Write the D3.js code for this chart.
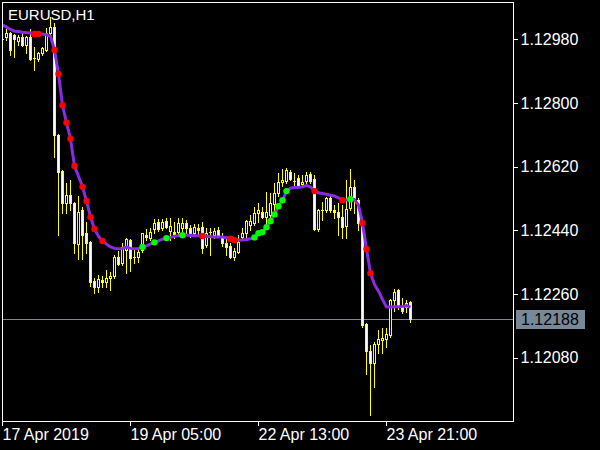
<!DOCTYPE html>
<html><head><meta charset="utf-8">
<script src="https://cdn.jsdelivr.net/npm/d3@7"></script>
<style>html,body{margin:0;padding:0;background:#000;} svg{display:block}</style>
</head><body>
<svg id="c" width="600" height="450"></svg>
<script>
const symbolTitle = "EURUSD,H1";
const open = [1.12978,1.12986,1.12998,1.12992,1.12975,1.12986,1.12964,1.12986,1.12927,1.12924,
1.12941,1.12950,1.12998,1.13015,1.12709,1.12607,1.12517,1.12539,1.12517,1.12401,
1.12497,1.12432,1.12406,1.12296,1.12279,1.12299,1.12293,1.12304,1.12310,1.12364,
1.12347,1.12384,1.12412,1.12361,1.12364,1.12384,1.12426,1.12418,1.12443,1.12463,
1.12446,1.12466,1.12437,1.12434,1.12434,1.12446,1.12460,1.12446,1.12432,1.12446,
1.12449,1.12398,1.12434,1.12426,1.12440,1.12420,1.12403,1.12395,1.12364,1.12378,
1.12420,1.12432,1.12454,1.12460,1.12488,1.12491,1.12477,1.12483,1.12514,1.12545,
1.12576,1.12579,1.12604,1.12579,1.12587,1.12570,1.12579,1.12599,1.12584,1.12443,
1.12497,1.12497,1.12531,1.12497,1.12491,1.12477,1.12451,1.12502,1.12562,1.12525,
1.12454,1.12174,1.12098,1.12064,1.12118,1.12129,1.12132,1.12143,1.12242,1.12270,
1.12222,1.12222,1.12236];
const high = [1.12986,1.13009,1.13000,1.12995,1.12992,1.12998,1.12989,1.13009,1.12958,1.12944,
1.12958,1.13012,1.13043,1.13026,1.12712,1.12610,1.12573,1.12582,1.12519,1.12536,
1.12505,1.12463,1.12409,1.12304,1.12313,1.12310,1.12327,1.12321,1.12369,1.12381,
1.12403,1.12418,1.12415,1.12384,1.12389,1.12432,1.12443,1.12446,1.12471,1.12471,
1.12471,1.12474,1.12474,1.12463,1.12474,1.12474,1.12468,1.12454,1.12457,1.12457,
1.12463,1.12446,1.12446,1.12446,1.12449,1.12432,1.12418,1.12403,1.12389,1.12426,
1.12446,1.12468,1.12483,1.12505,1.12517,1.12505,1.12548,1.12545,1.12573,1.12601,
1.12613,1.12616,1.12610,1.12601,1.12596,1.12596,1.12604,1.12604,1.12596,1.12500,
1.12519,1.12534,1.12536,1.12511,1.12517,1.12511,1.12582,1.12613,1.12582,1.12531,
1.12460,1.12177,1.12115,1.12123,1.12157,1.12163,1.12163,1.12245,1.12273,1.12273,
1.12248,1.12242,1.12239];
const low = [1.12969,1.12978,1.12935,1.12930,1.12964,1.12961,1.12941,1.12921,1.12893,1.12918,
1.12935,1.12947,1.12992,1.12647,1.12426,1.12488,1.12488,1.12497,1.12375,1.12358,
1.12358,1.12375,1.12284,1.12262,1.12265,1.12279,1.12279,1.12270,1.12304,1.12341,
1.12341,1.12318,1.12324,1.12347,1.12350,1.12378,1.12412,1.12412,1.12432,1.12437,
1.12440,1.12446,1.12412,1.12418,1.12426,1.12434,1.12426,1.12420,1.12423,1.12426,
1.12375,1.12392,1.12369,1.12418,1.12420,1.12395,1.12369,1.12361,1.12355,1.12375,
1.12412,1.12412,1.12440,1.12454,1.12463,1.12474,1.12460,1.12477,1.12497,1.12536,
1.12565,1.12573,1.12582,1.12567,1.12559,1.12562,1.12573,1.12573,1.12440,1.12437,
1.12468,1.12491,1.12491,1.12474,1.12426,1.12418,1.12418,1.12497,1.12488,1.12440,
1.12166,1.12035,1.11917,1.11996,1.12092,1.12092,1.12109,1.12137,1.12211,1.12217,
1.12205,1.12208,1.12180];
const close = [1.12981,1.12998,1.12950,1.12981,1.12986,1.12964,1.12986,1.12924,1.12924,1.12941,
1.12955,1.12998,1.13015,1.12709,1.12604,1.12517,1.12539,1.12517,1.12403,1.12491,
1.12426,1.12403,1.12293,1.12279,1.12301,1.12293,1.12304,1.12310,1.12364,1.12344,
1.12392,1.12415,1.12361,1.12364,1.12378,1.12432,1.12420,1.12434,1.12460,1.12443,
1.12463,1.12449,1.12451,1.12429,1.12460,1.12460,1.12446,1.12432,1.12449,1.12440,
1.12389,1.12432,1.12432,1.12437,1.12426,1.12403,1.12392,1.12364,1.12381,1.12406,
1.12432,1.12466,1.12466,1.12488,1.12497,1.12477,1.12491,1.12517,1.12545,1.12576,
1.12582,1.12610,1.12584,1.12576,1.12565,1.12576,1.12596,1.12579,1.12443,1.12497,
1.12494,1.12531,1.12497,1.12491,1.12477,1.12449,1.12500,1.12562,1.12531,1.12460,
1.12171,1.12100,1.12064,1.12118,1.12132,1.12135,1.12146,1.12242,1.12265,1.12222,
1.12211,1.12234,1.12188];
const maLine = [1.13020,1.13015,1.13008,1.13003,1.13002,1.13000,1.12999,1.12998,1.12995,1.12995,
1.12995,1.12993,1.12989,1.12950,1.12882,1.12794,1.12744,1.12699,1.12622,1.12593,
1.12563,1.12523,1.12478,1.12444,1.12423,1.12410,1.12401,1.12393,1.12389,1.12388,
1.12389,1.12393,1.12389,1.12388,1.12389,1.12393,1.12396,1.12401,1.12406,1.12410,
1.12415,1.12418,1.12420,1.12423,1.12425,1.12426,1.12426,1.12426,1.12425,1.12425,
1.12424,1.12423,1.12422,1.12421,1.12421,1.12421,1.12419,1.12416,1.12412,1.12412,
1.12413,1.12414,1.12416,1.12420,1.12432,1.12435,1.12449,1.12466,1.12485,1.12508,
1.12525,1.12551,1.12559,1.12561,1.12561,1.12563,1.12567,1.12563,1.12551,1.12546,
1.12544,1.12542,1.12539,1.12537,1.12532,1.12525,1.12526,1.12528,1.12527,1.12511,
1.12461,1.12387,1.12319,1.12287,1.12268,1.12245,1.12223,1.12223,1.12224,1.12224,
1.12225,1.12227,1.12223];
const redDots = [8,9,13,14,15,16,17,18,20,21,22,23,25,50,57,58,78,85,90,91,92];
const greenDots = [35,38,41,45,63,64,65,66,67,68,69,70,71,87];
const priceTicks = [1.12980,1.12800,1.12620,1.12440,1.12260,1.12080];
const timeTickBars = [0,32,64,96];
const timeTickLabels = ["17 Apr 2019","19 Apr 05:00","22 Apr 13:00","23 Apr 21:00"];
const priceRange = [1.119009, 1.130856];

const W = 600, H = 450;
const plot = {left: 2, top: 2, right: 513, bottom: 421};
const FONT = "'Liberation Sans', Arial, sans-serif";
const svg = d3.select("#c");
svg.append("rect").attr("width", W).attr("height", H).attr("fill", "#000");

const n = close.length;
const x = d3.scaleLinear().domain([0, n - 1]).range([2, 2 + 4 * (n - 1)]);
const y = d3.scaleLinear().domain(priceRange).range([plot.bottom, plot.top]);

svg.append("clipPath").attr("id", "clip").append("rect")
  .attr("x", plot.left).attr("y", plot.top)
  .attr("width", plot.right - plot.left).attr("height", plot.bottom - plot.top);

const g = svg.append("g").attr("clip-path", "url(#clip)");

// current price line
const last = close[n - 1];
const ly = Math.round(y(last)) + 0.5;
g.append("line").attr("x1", plot.left).attr("x2", plot.right).attr("y1", ly).attr("y2", ly)
  .attr("stroke", "#778899").attr("stroke-width", 1).attr("shape-rendering", "crispEdges");

// candles
const idx = d3.range(n);
const cg = g.append("g").attr("shape-rendering", "crispEdges");
cg.selectAll("line.wick").data(idx).join("line").attr("class", "wick")
  .attr("x1", i => x(i) + 0.5).attr("x2", i => x(i) + 0.5)
  .attr("y1", i => Math.round(y(high[i]))).attr("y2", i => Math.round(y(low[i])) + 1)
  .attr("stroke", "#ffff00").attr("stroke-width", 1);
idx.forEach(i => {
  const top = Math.round(y(Math.max(open[i], close[i])));
  const bot = Math.round(y(Math.min(open[i], close[i])));
  const bull = close[i] >= open[i];
  if (bot - top < 2) {
    cg.append("line").attr("x1", x(i) - 1).attr("x2", x(i) + 2)
      .attr("y1", top + 0.5).attr("y2", top + 0.5)
      .attr("stroke", "#ffff00").attr("stroke-width", 1);
  } else {
    cg.append("rect").attr("x", x(i) - 0.5).attr("y", top + 0.5)
      .attr("width", 2).attr("height", bot - top)
      .attr("fill", bull ? "#000" : "#fff").attr("stroke", "#ffff00").attr("stroke-width", 1);
  }
});

// indicator line
g.append("path").datum(idx)
  .attr("d", d3.line().x(i => x(i) + 0.5).y(i => y(maLine[i])))
  .attr("fill", "none").attr("stroke", "#8a2be2").attr("stroke-width", 3)
  .attr("stroke-linejoin", "round");

g.selectAll("circle.red").data(redDots).join("circle").attr("class", "red")
  .attr("cx", i => x(i) + 0.5).attr("cy", i => y(maLine[i])).attr("r", 3.2).attr("fill", "#ff0000");
g.selectAll("circle.green").data(greenDots).join("circle").attr("class", "green")
  .attr("cx", i => x(i) + 0.5).attr("cy", i => y(maLine[i])).attr("r", 3.2).attr("fill", "#00ff00");

// frame
svg.append("rect").attr("x", plot.left + 0.5).attr("y", plot.top + 0.5)
  .attr("width", plot.right - plot.left).attr("height", plot.bottom - plot.top)
  .attr("fill", "none").attr("stroke", "#fff").attr("stroke-width", 1).attr("shape-rendering", "crispEdges");

// price axis
const ya = svg.append("g").attr("transform", `translate(${plot.right + 0.5},0)`)
  .call(d3.axisRight(y).tickValues(priceTicks).tickSize(4).tickPadding(3).tickFormat(d3.format(".5f")));
ya.select(".domain").remove();
ya.attr("color", "#fff").attr("font-family", FONT).attr("font-size", 16);
ya.selectAll("line").attr("shape-rendering", "crispEdges");

// last price label
svg.append("rect").attr("x", 516).attr("y", ly - 9.5).attr("width", 69).attr("height", 19).attr("fill", "#778899");
svg.append("text").attr("x", 521).attr("y", ly).attr("dy", "0.35em")
  .attr("font-family", FONT).attr("font-size", 16).attr("fill", "#000").text(d3.format(".5f")(last));

// time axis
const xa = svg.append("g").attr("transform", `translate(0,${plot.bottom + 0.5})`)
  .call(d3.axisBottom(x).tickValues(timeTickBars).tickSize(4)
    .tickFormat((d, k) => timeTickLabels[k]));
xa.select(".domain").remove();
xa.attr("color", "#fff").attr("font-family", FONT).attr("font-size", 16);
xa.selectAll("line").attr("shape-rendering", "crispEdges");
xa.selectAll("text").attr("text-anchor", "start").attr("x", 0).attr("y", 7).attr("dy", "0.71em");

// title
svg.append("text").attr("x", 8).attr("y", 19.5).attr("font-family", FONT).attr("font-size", 15)
  .attr("fill", "#fff").text(symbolTitle);
</script>
</body></html>
